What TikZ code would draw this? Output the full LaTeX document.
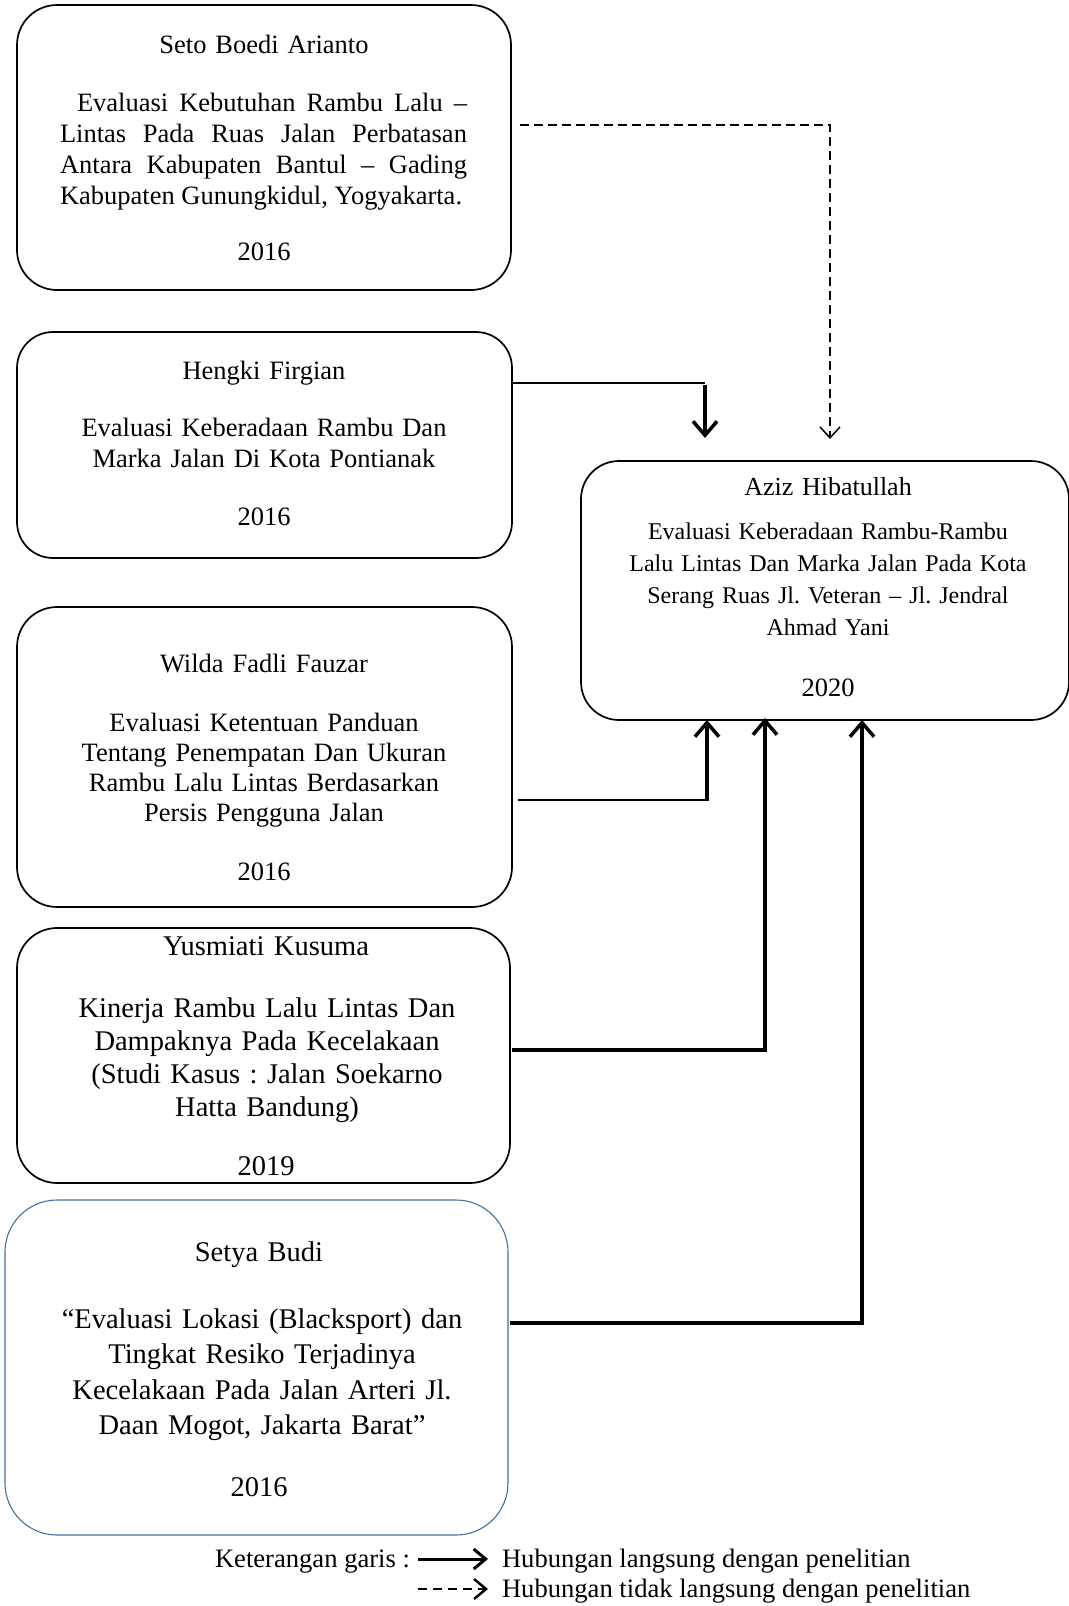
\documentclass[tikz,border=0pt]{standalone}
\usepackage{fontspec}
\setmainfont{Liberation Serif}
\usetikzlibrary{arrows.meta,calc}
\definecolor{boxblue}{RGB}{65,113,156}
\hbadness=10000
\frenchspacing
\begin{document}
\begin{tikzpicture}[x=1pt,y=-1pt,
  box/.style={draw, line width=1.7pt, rounded corners=40pt, inner sep=0pt, outer sep=0pt},
  txt/.style={inner sep=0pt, outer sep=0pt, align=center, text width=480pt, anchor=base},
  fA/.style={font=\fontsize{26.5}{31}\selectfont},
  fA30/.style={font=\fontsize{26.5}{30}\selectfont},
  fB/.style={font=\fontsize{28.5}{33}\selectfont},
  fC/.style={font=\fontsize{28.5}{35.5}\selectfont},
  fD/.style={font=\fontsize{24}{32}\selectfont},
  thinconn/.style={line width=2pt},
  thickarrow/.style={line width=3.5pt, line join=miter, -{Straight Barb[length=14pt,width=24pt]}},
  dashconn/.style={line width=2pt, dash pattern=on 9pt off 5pt, -{Straight Barb[length=11pt,width=20pt,line width=1.5pt]}},
  legsolid/.style={line width=3pt, -{Straight Barb[length=12pt,width=20pt]}},
  legdash/.style={line width=2.5pt, dash pattern=on 9pt off 6pt, -{Straight Barb[length=12pt,width=20pt,line width=2.5pt]}},
  legtxt/.style={inner sep=0pt, outer sep=0pt, anchor=base west, font=\fontsize{26.6}{30}\selectfont}
]
\useasboundingbox (0,0) rectangle (1068,1606);

% boxes
\node[box, minimum width=494pt, minimum height=285pt] (B1) at (264,147.5) {};
\node[box, minimum width=495pt, minimum height=226pt, rounded corners=36pt] (B2) at (264.5,445) {};
\node[box, minimum width=495pt, minimum height=300pt] (B3) at (264.5,757) {};
\node[box, minimum width=493pt, minimum height=255pt] (B4) at (263.5,1055.5) {};
\node[draw=boxblue, line width=1.1pt, rounded corners=52pt, inner sep=0pt, outer sep=0pt,
      minimum width=503pt, minimum height=335pt] (B5) at (256.5,1367.5) {};
\node[box, minimum width=488pt, minimum height=259pt, rounded corners=38pt] (B6) at (825,590.5) {};

% box 1
\node[txt, fA] (B1n) at (264,53) {Seto Boedi Arianto};
\node[inner sep=0pt, outer sep=0pt, text width=407pt, align=justify, anchor=base west, fA] (B1b) at (60,111)
  {\hspace*{17pt}Evaluasi Kebutuhan Rambu Lalu –\linebreak Lintas Pada Ruas Jalan Perbatasan\linebreak Antara Kabupaten Bantul – Gading\linebreak Kabupaten Gunungkidul, Yogyakarta.};
\node[txt, fA] (B1y) at (264,260) {2016};

% box 2
\node[txt, fA] (B2n) at (264,379) {Hengki Firgian};
\node[txt, fA] (B2b) at (264,436) {Evaluasi Keberadaan Rambu Dan\\Marka Jalan Di Kota Pontianak};
\node[txt, fA] (B2y) at (264,525) {2016};

% box 3
\node[txt, fA30] (B3n) at (264,672) {Wilda Fadli Fauzar};
\node[txt, fA30] (B3b) at (264,731) {Evaluasi Ketentuan Panduan\\Tentang Penempatan Dan Ukuran\\Rambu Lalu Lintas Berdasarkan\\Persis Pengguna Jalan};
\node[txt, fA30] (B3y) at (264,880) {2016};

% box 4
\node[txt, fB] (B4n) at (266,955) {Yusmiati Kusuma};
\node[txt, fB] (B4b) at (267,1017) {Kinerja Rambu Lalu Lintas Dan\\Dampaknya Pada Kecelakaan\\(Studi Kasus : Jalan Soekarno\\Hatta Bandung)};
\node[txt, fB] (B4y) at (266,1175) {2019};

% box 5
\node[txt, fC] (B5n) at (259,1261) {Setya Budi};
\node[txt, fC] (B5b) at (262,1328) {“Evaluasi Lokasi (Blacksport) dan\\Tingkat Resiko Terjadinya\\Kecelakaan Pada Jalan Arteri Jl.\\Daan Mogot, Jakarta Barat”};
\node[txt, fC] (B5y) at (259,1496) {2016};

% box 6
\node[txt, font=\fontsize{26}{30}\selectfont, text width=470pt] (B6n) at (828,495) {Aziz Hibatullah};
\node[txt, fD, text width=470pt] (B6b) at (828,539) {Evaluasi Keberadaan Rambu-Rambu\\Lalu Lintas Dan Marka Jalan Pada Kota\\Serang Ruas Jl. Veteran – Jl. Jendral\\Ahmad Yani};
\node[txt, fA, text width=470pt] (B6y) at (828,696) {2020};

% connectors
\coordinate (d0) at ($(B1.north east)+(9,120)$);
\coordinate (d1) at ($(B6.north west)+(249,-22)$);
\draw[dashconn] (d0) -- (d0 -| d1) -- (d1);

\coordinate (h0) at ($(B2.north east)+(0,51)$);
\coordinate (h1) at ($(B6.north west)+(124,-23)$);
\coordinate (hc) at (h0 -| h1);
\coordinate (hv) at ($(hc)+(0,2)$);
\draw[thinconn] (h0) -- (hc);
\draw[thickarrow] (hv) -- (h1);

\coordinate (w0) at ($(B3.north east)+(6,193)$);
\coordinate (w1) at ($(B6.south west)+(126,0)$);
\coordinate (wc) at (w0 -| w1);
\draw[thinconn] (w0) -- (wc);
\draw[thickarrow] ($(wc)+(0,1)$) -- (w1);

\coordinate (y0) at ($(B4.north east)+(2,122)$);
\coordinate (y1) at ($(B6.south west)+(184,-2)$);
\draw[thickarrow] (y0) -- (y0 -| y1) -- (y1);

\coordinate (s0) at ($(B5.north east)+(2,123)$);
\coordinate (s1) at ($(B6.south west)+(281,0)$);
\draw[thickarrow] (s0) -- (s0 -| s1) -- (s1);

% legend
\node[legtxt] (L0) at (215,1567) {Keterangan garis :};
\node[legtxt] (L1) at (502,1567) {Hubungan langsung dengan penelitian};
\node[legtxt] (L2) at (502,1597) {Hubungan tidak langsung dengan penelitian};
\coordinate (la0) at ($(L1.base west)+(-84,-8)$);
\coordinate (la1) at ($(L1.base west)+(-14,-8)$);
\draw[legsolid] (la0) -- (la1);
\coordinate (lb0) at ($(L2.base west)+(-84,-8)$);
\coordinate (lb1) at ($(L2.base west)+(-14,-8)$);
\draw[legdash] (lb0) -- (lb1);
\end{tikzpicture}
\end{document}
